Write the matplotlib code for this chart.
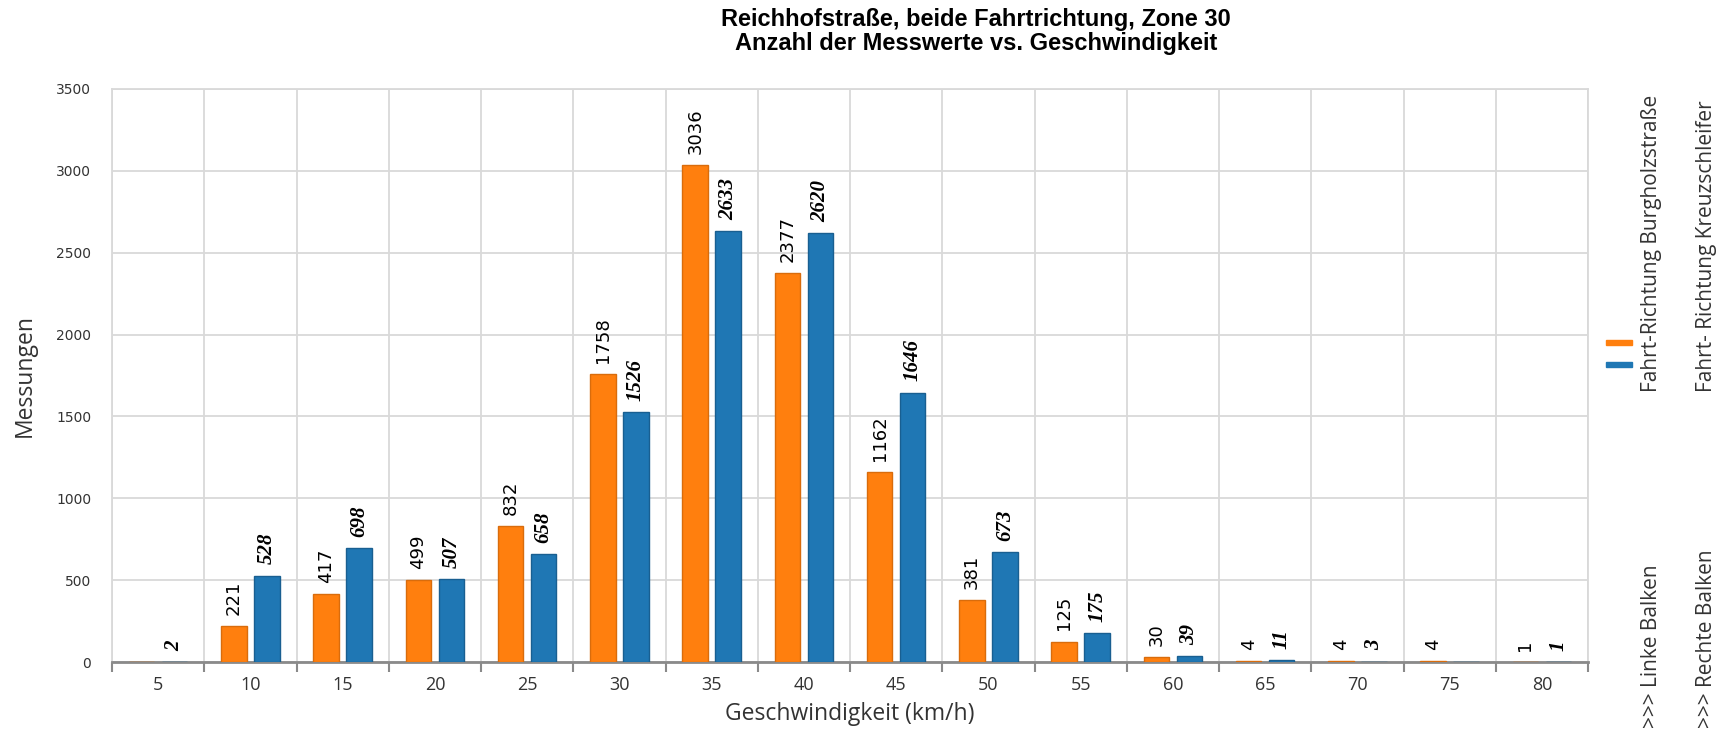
import matplotlib
matplotlib.use("Agg")
import matplotlib.pyplot as plt
import numpy as np
from matplotlib.patches import Rectangle

# ---- data ----
speeds = ['5', '10', '15', '20', '25', '30', '35', '40', '45', '50',
          '55', '60', '65', '70', '75', '80']
burgholz = [0, 221, 417, 499, 832, 1758, 3036, 2377, 1162, 381, 125, 30, 4, 4, 4, 1]
kreuz = [2, 528, 698, 507, 658, 1526, 2633, 2620, 1646, 673, 175, 39, 11, 3, 0, 1]
yticks = [0, 500, 1000, 1500, 2000, 2500, 3000, 3500]

title = "Reichhofstraße, beide Fahrtrichtung, Zone 30\nAnzahl der Messwerte vs. Geschwindigkeit"
xlabel = "Geschwindigkeit (km/h)"
ylabel = "Messungen"
leg1_main = "Fahrt-Richtung Burgholzstraße"
leg2_main = "Fahrt- Richtung Kreuzschleifer"
leg1_sub = ">>> Linke Balken"
leg2_sub = ">>> Rechte Balken"

ORANGE = '#ff7f0e'
BLUE = '#1f77b4'
GRID = '#d9d9d9'

W, H = 1724, 737
fig = plt.figure(figsize=(W / 100, H / 100), dpi=100)
ax = fig.add_axes([112 / W, 1 - 662 / H, (1588 - 112) / W, (662 - 89) / H])

x = np.arange(len(speeds))
off = 0.178
bw = 0.276
ax.bar(x - off, burgholz, bw, color=ORANGE, edgecolor='#d96c0c', linewidth=1.0, zorder=3)
ax.bar(x + off, kreuz, bw, color=BLUE, edgecolor='#195f91', linewidth=1.0, zorder=3)

for xi, v in zip(x, burgholz):
    if v > 0:
        ax.annotate(str(v), (xi - off, v), xytext=(0, 8), textcoords='offset points',
                    rotation=90, ha='center', va='bottom', fontsize=13,
                    family='DejaVu Sans', color='black', zorder=4)
for xi, v in zip(x, kreuz):
    if v > 0:
        ax.annotate(str(v), (xi + off, v), xytext=(0, 8), textcoords='offset points',
                    rotation=90, ha='center', va='bottom', fontsize=15,
                    family='Liberation Serif', fontweight='bold', fontstyle='italic',
                    color='black', zorder=4)

ax.set_xlim(-0.5, len(speeds) - 0.5)
ax.set_ylim(0, 3500)
ax.set_yticks(yticks)
ax.set_yticklabels([str(t) for t in yticks], family='DejaVu Sans', fontsize=10, color='#333333')
ax.tick_params(axis='y', length=0, pad=15)

ax.set_xticks(x)
ax.set_xticklabels(speeds, family='Open Sans', fontsize=13, color='#333333')
ax.set_xticks(np.arange(-0.5, len(speeds), 1.0), minor=True)
ax.tick_params(axis='x', which='major', length=0, pad=10)
ax.tick_params(axis='x', which='minor', length=7, width=1.5, color='#8a8a8a', direction='out')

ax.grid(True, axis='y', color=GRID, linewidth=1.3, zorder=0)
ax.grid(True, axis='x', which='minor', color=GRID, linewidth=1.3, zorder=0)
ax.set_axisbelow(True)

for s in ['top', 'left', 'right']:
    ax.spines[s].set_color(GRID)
    ax.spines[s].set_linewidth(1.3)
ax.spines['bottom'].set_color('#8a8a8a')
ax.spines['bottom'].set_linewidth(2.0)

ax.set_xlabel(xlabel, family='Open Sans', fontsize=16.5, color='#333333', labelpad=6)
ax.set_ylabel(ylabel, family='Open Sans', fontsize=16.5, color='#333333')
ax.yaxis.set_label_coords(-0.051, 0.5)

fig.text(976 / W, 1 - 31.5 / H, title, ha='center', va='center', fontsize=17,
         fontweight='bold', family='Liberation Sans', linespacing=1.05, color='black')

# legend (rotated, right side)
c1x, c2x = 1652 / W, 1707 / W
fs_leg = 15
fig.text(c1x, 1 - 392 / H, leg1_main, rotation=90, ha='center', va='bottom',
         family='Open Sans', fontsize=fs_leg, color='#333333')
fig.text(c2x, 1 - 392 / H, leg2_main, rotation=90, ha='center', va='bottom',
         family='Open Sans', fontsize=fs_leg, color='#333333')
fig.text(c1x, 1 - 728 / H, leg1_sub, rotation=90, ha='center', va='bottom',
         family='Open Sans', fontsize=fs_leg, color='#333333')
fig.text(c2x, 1 - 728 / H, leg2_sub, rotation=90, ha='center', va='bottom',
         family='Open Sans', fontsize=fs_leg, color='#333333')
fig.patches.append(Rectangle((1606 / W, 1 - 345 / H), 26 / W, 5 / H,
                             transform=fig.transFigure, color=ORANGE))
fig.patches.append(Rectangle((1606 / W, 1 - 367 / H), 26 / W, 5 / H,
                             transform=fig.transFigure, color=BLUE))

fig.savefig('out.png', dpi=100)
